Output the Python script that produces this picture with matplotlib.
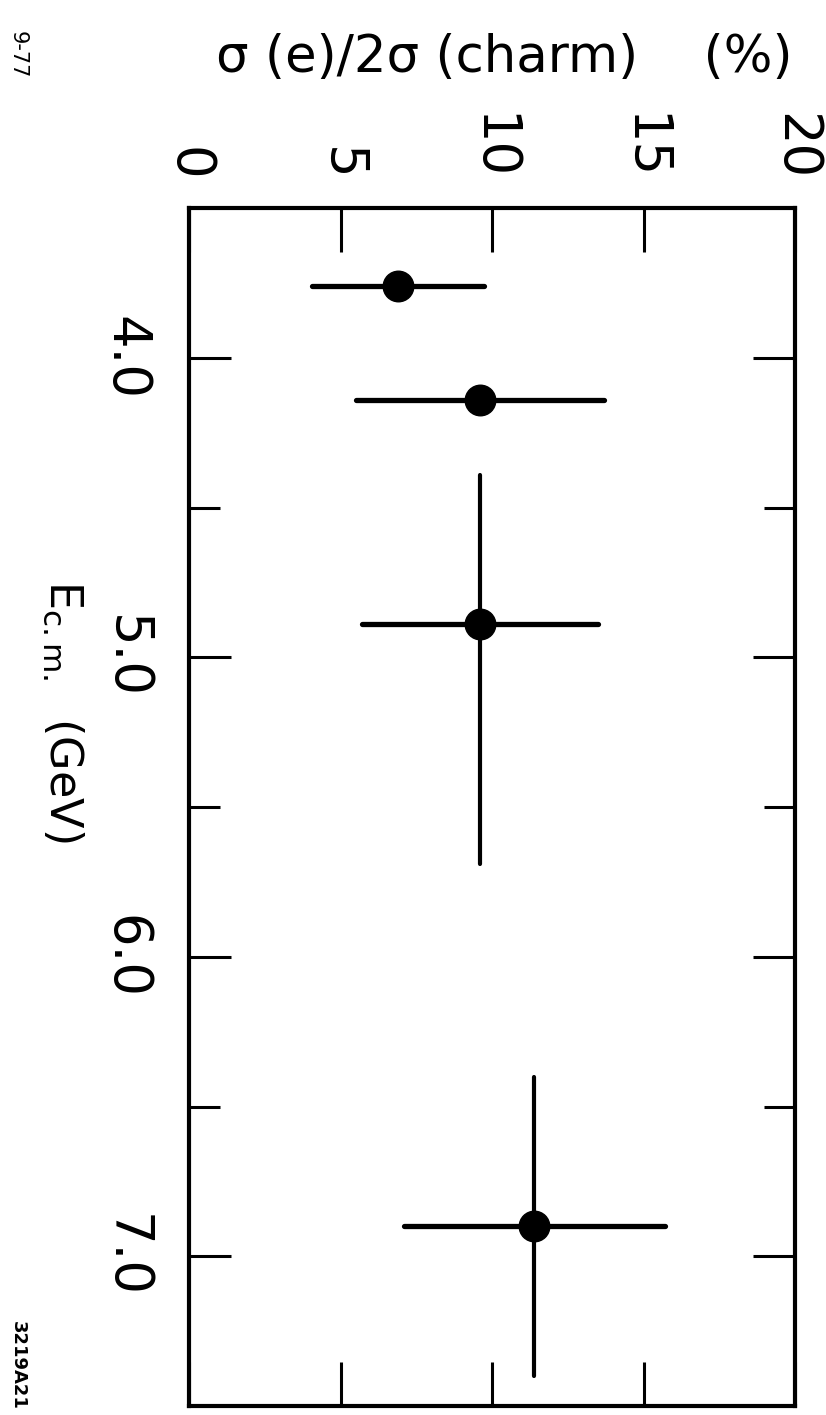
import matplotlib
matplotlib.use("Agg")
import matplotlib.pyplot as plt
import numpy as np

# ---- data ----
ecm = [3.76, 4.14, 4.89, 6.90]          # E c.m. (GeV)
sigma = [6.9, 9.6, 9.6, 11.4]           # sigma(e)/2sigma(charm) (%)
sigma_err = [2.85, 4.1, 3.9, 4.3]
ecm_err_lo = [0.0, 0.0, 0.50, 0.50]
ecm_err_hi = [0.0, 0.0, 0.80, 0.50]

sigma_ticks = [0, 5, 10, 15, 20]
sigma_ticklabels = ["0", "5", "10", "15", "20"]
ecm_major = [4.0, 5.0, 6.0, 7.0]
ecm_ticklabels = ["4.0", "5.0", "6.0", "7.0"]
ecm_minor = [4.5, 5.5, 6.5]

plt.rcParams['font.family'] = ['DejaVu Sans']

W, H = 826, 1415
fig = plt.figure(figsize=(W / 100, H / 100), dpi=100)
L, R, T, B = 189, 795, 208, 1406
ax = fig.add_axes([L / W, 1 - B / H, (R - L) / W, (B - T) / H])

eb = ax.errorbar(sigma, ecm, xerr=sigma_err, yerr=[ecm_err_lo, ecm_err_hi],
                 fmt='o', color='black', ms=22, capsize=0, zorder=3)
barcols = eb[2]
barcols[0].set_linewidth(3.8)
barcols[0].set_capstyle('round')
barcols[1].set_linewidth(3.0)
barcols[1].set_capstyle('round')

ax.set_xlim(0, 20)
ax.set_ylim(7.5, 3.5)

for s in ax.spines.values():
    s.set_linewidth(3.0)

ax.set_xticks(sigma_ticks)
ax.set_xticklabels(sigma_ticklabels, rotation=-90)
ax.xaxis.tick_top()
ax.tick_params(axis='x', which='both', direction='in', top=True, bottom=True,
               labeltop=True, labelbottom=False, length=32, width=2.2,
               pad=20, labelsize=38)

ax.set_yticks(ecm_major)
ax.set_yticklabels(ecm_ticklabels, rotation=-90, va='center')
ax.set_yticks(ecm_minor, minor=True)
ax.tick_params(axis='y', which='major', direction='in', left=True, right=True,
               length=30, width=2.2, pad=27, labelsize=38)
ax.tick_params(axis='y', which='minor', direction='in', left=True, right=True,
               length=22, width=2.2)

ax.xaxis.set_label_position('top')
ax.set_xlabel("σ (e)/2σ (charm)    (%)", fontsize=37)
ax.xaxis.set_label_coords(0.52, 1.0 + (T - 58) / (B - T))
ax.xaxis.label.set_va('center')
ax.set_ylabel(r"E$_{\mathregular{c.m.}}$  (GeV)", fontsize=32,
              rotation=-90, va='top')
ax.yaxis.set_label_coords(-0.17, 0.58)

fig.text(18 / W, 1 - 55 / H, "9-77", rotation=-90, fontsize=15,
         ha='center', va='center')
fig.text(18 / W, 1 - 1365 / H, "3219A21", rotation=-90, fontsize=13,
         fontweight='bold', ha='center', va='center')

fig.savefig("out.png", dpi=100)
